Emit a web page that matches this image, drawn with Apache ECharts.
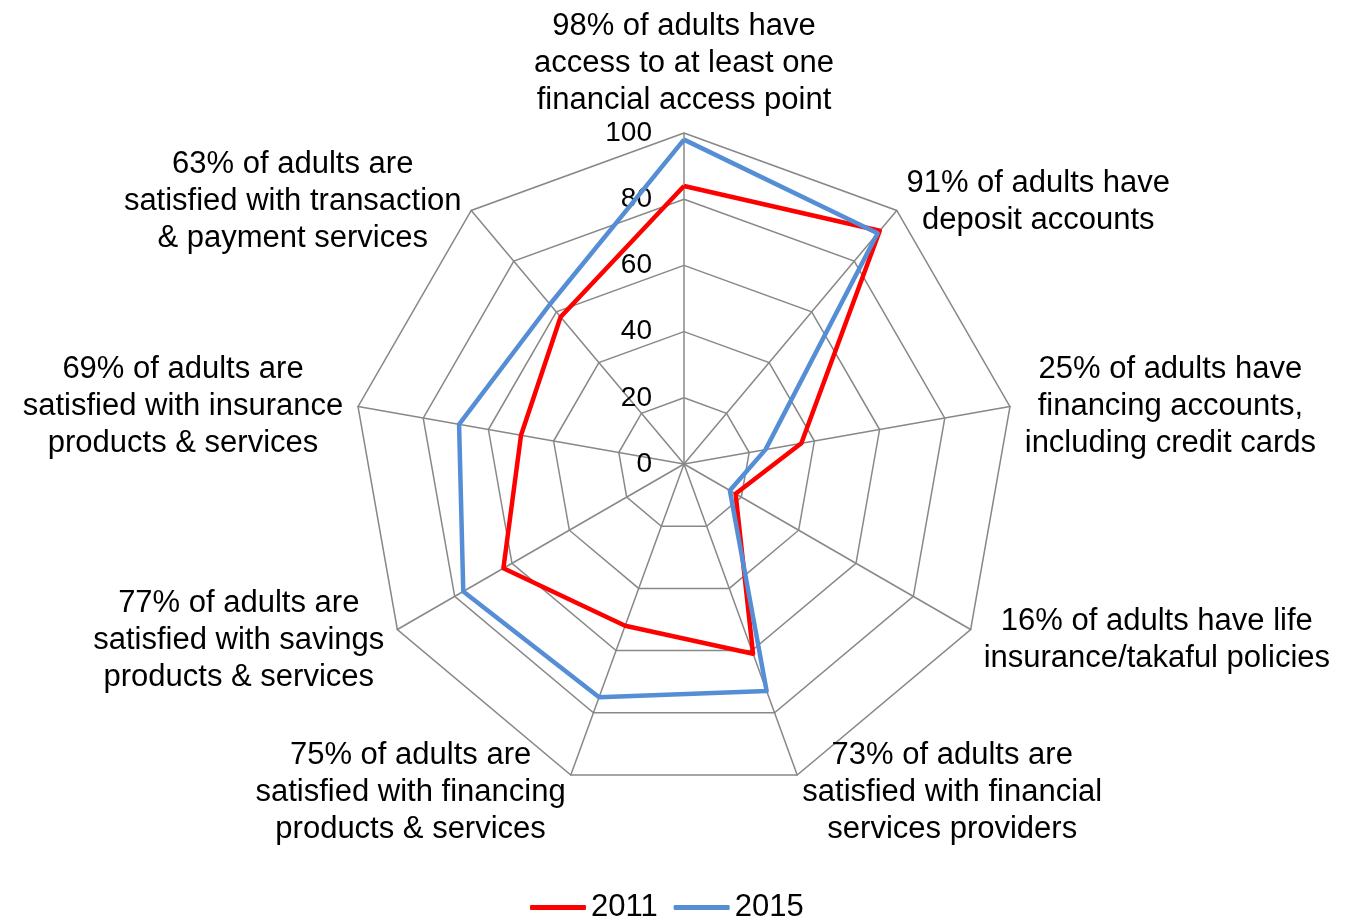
<!DOCTYPE html>
<html><head><meta charset="utf-8">
<script src="https://cdn.jsdelivr.net/npm/echarts@6/dist/echarts.min.js"></script>
<style>html,body{margin:0;padding:0;background:#fff}#c{width:1347px;height:918px}</style>
</head><body><div id="c"></div>
<script>
// Visual clockwise order starting at top
const categories = [
  "98% of adults have\naccess to at least one\nfinancial access point",
  "91% of adults have\ndeposit accounts",
  "25% of adults have\nfinancing accounts,\nincluding credit cards",
  "16% of adults have life\ninsurance/takaful policies",
  "73% of adults are\nsatisfied with financial\nservices providers",
  "75% of adults are\nsatisfied with financing\nproducts & services",
  "77% of adults are\nsatisfied with savings\nproducts & services",
  "69% of adults are\nsatisfied with insurance\nproducts & services",
  "63% of adults are\nsatisfied with transaction\n& payment services"
];
const values2011 = [84, 92, 36, 18, 61, 52, 63, 50, 58];
const values2015 = [98, 91, 25, 16, 73, 75, 77, 69, 63];
const seriesNames = ["2011", "2015"];
const axisMin = 0;
const axisMax = 100;

const FONT = "'Liberation Sans', Arial, sans-serif";
// ECharts lays indicators counterclockwise; reorder so they read clockwise
const order = [0].concat(categories.map((_, i) => i).slice(1).reverse());
const indicators = order.map((k, j) => {
  const ind = { name: categories[k], min: axisMin, max: axisMax };
  if (j === 0) { ind.axisLabel = { show: true }; ind.nameGap = 11; }
  return ind;
});
const pick = arr => order.map(k => arr[k]);

const chart = echarts.init(document.getElementById('c'), null, { renderer: 'canvas' });
chart.setOption({
  animation: false,
  backgroundColor: '#ffffff',
  textStyle: { fontFamily: FONT },
  legend: {
    top: 887,
    left: 525,
    itemWidth: 56,
    itemHeight: 5,
    itemGap: 16,
    icon: 'roundRect',
    textStyle: { fontSize: 31, color: '#000', fontFamily: FONT },
    data: seriesNames
  },
  radar: {
    center: [684, 464],
    radius: 331,
    startAngle: 90,
    splitNumber: 5,
    shape: 'polygon',
    nameGap: 15,
    axisName: {
      color: '#000',
      fontSize: 31,
      fontFamily: FONT,
      lineHeight: 37,
      padding: [6, 0, 0, 0],
      formatter: n => '{c|' + n + '}',
      rich: { c: { align: 'center', fontSize: 31, lineHeight: 37, color: '#000', fontFamily: FONT } }
    },
    axisLine: { lineStyle: { color: '#888888', width: 1.5 } },
    splitLine: { lineStyle: { color: '#888888', width: 1.5 } },
    splitArea: { show: false },
    axisTick: { show: false },
    axisLabel: { show: false, fontSize: 28, color: '#000', fontFamily: FONT, margin: 32 },
    indicator: indicators
  },
  series: [{
    type: 'radar',
    symbol: 'none',
    data: [
      { name: seriesNames[0], value: pick(values2011),
        lineStyle: { color: '#FF0000', width: 4.5 }, itemStyle: { color: '#FF0000' } },
      { name: seriesNames[1], value: pick(values2015),
        lineStyle: { color: '#558ED5', width: 4.5 }, itemStyle: { color: '#558ED5' } }
    ]
  }]
});
</script>
</body></html>
